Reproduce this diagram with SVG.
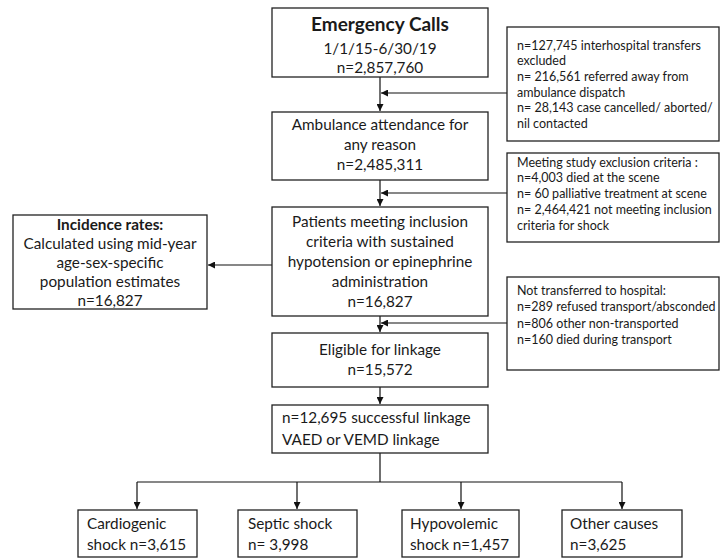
<svg xmlns="http://www.w3.org/2000/svg" width="721" height="559" viewBox="0 0 721 559">
<style>
.box{fill:#fff;stroke:#222;stroke-width:1.3}
.t{font-family:Lato,"Liberation Sans",sans-serif;fill:#1a1a1a}
.m{font-size:15.3px}
.c{text-anchor:middle}
.s{font-size:12.5px}
.b{font-weight:bold}
.ln{fill:none;stroke:#111;stroke-width:1.2}
</style>
<defs>
<marker id="ah" viewBox="0 0 10 10" refX="10" refY="5" markerWidth="7" markerHeight="7" markerUnits="userSpaceOnUse" orient="auto">
<path d="M0,0 L10,5 L0,10 z" fill="#111"/>
</marker>
</defs>
<rect width="721" height="559" fill="#fff"/>
<g id="connectors">
<path class="ln" d="M380,77 V111" marker-end="url(#ah)"/>
<path class="ln" d="M507,93 H381" marker-end="url(#ah)"/>
<path class="ln" d="M380,180 V206" marker-end="url(#ah)"/>
<path class="ln" d="M507,193 H381" marker-end="url(#ah)"/>
<path class="ln" d="M272,265 H208" marker-end="url(#ah)"/>
<path class="ln" d="M380,316 V332" marker-end="url(#ah)"/>
<path class="ln" d="M507,323 H381" marker-end="url(#ah)"/>
<path class="ln" d="M380,387 V404" marker-end="url(#ah)"/>
<path class="ln" d="M380,453 V482 M137,482 H622"/>
<path class="ln" d="M137,482 V509" marker-end="url(#ah)"/>
<path class="ln" d="M297,482 V509" marker-end="url(#ah)"/>
<path class="ln" d="M461,482 V509" marker-end="url(#ah)"/>
<path class="ln" d="M622,482 V509" marker-end="url(#ah)"/>
</g>
<g id="calls">
<rect class="box" x="272" y="8" width="216" height="69"/>
<text class="t c b" x="380" y="31" font-size="19">Emergency Calls</text>
<text class="t c m" x="380" y="54">1/1/15-6/30/19</text>
<text class="t c m" x="380" y="73">n=2,857,760</text>
</g>
<g id="excl1">
<rect class="box" x="507" y="27" width="212" height="114"/>
<text class="t s" x="517" y="49.5">n=127,745 interhospital transfers</text>
<text class="t s" x="517" y="65">excluded</text>
<text class="t s" x="517" y="81">n= 216,561 referred away from</text>
<text class="t s" x="517" y="96.5">ambulance dispatch</text>
<text class="t s" x="517" y="112">n= 28,143 case cancelled/ aborted/</text>
<text class="t s" x="517" y="128">nil contacted</text>
</g>
<g id="ambulance">
<rect class="box" x="272" y="112" width="216" height="68"/>
<text class="t c m" x="380" y="130">Ambulance attendance for</text>
<text class="t c m" x="380" y="150">any reason</text>
<text class="t c m" x="380" y="170">n=2,485,311</text>
</g>
<g id="excl2">
<rect class="box" x="507" y="153" width="212" height="89"/>
<text class="t s" x="517" y="166.5">Meeting study exclusion criteria :</text>
<text class="t s" x="517" y="182">n=4,003 died at the scene</text>
<text class="t s" x="517" y="197.5">n= 60 palliative treatment at scene</text>
<text class="t s" x="517" y="213.5">n= 2,464,421 not meeting inclusion</text>
<text class="t s" x="517" y="229.5">criteria for shock</text>
</g>
<g id="incidence">
<rect class="box" x="13" y="215" width="194" height="94"/>
<text class="t c m b" x="110" y="230">Incidence rates:</text>
<text class="t c m" x="110" y="249">Calculated using mid-year</text>
<text class="t c m" x="110" y="268">age-sex-specific</text>
<text class="t c m" x="110" y="287">population estimates</text>
<text class="t c m" x="110" y="306">n=16,827</text>
</g>
<g id="patients">
<rect class="box" x="272" y="207" width="216" height="109"/>
<text class="t c m" x="380" y="227">Patients meeting inclusion</text>
<text class="t c m" x="380" y="247">criteria with sustained</text>
<text class="t c m" x="380" y="267">hypotension or epinephrine</text>
<text class="t c m" x="380" y="287">administration</text>
<text class="t c m" x="380" y="307">n=16,827</text>
</g>
<g id="excl3">
<rect class="box" x="507" y="277" width="212" height="93"/>
<text class="t s" x="517" y="294.5">Not transferred to hospital:</text>
<text class="t s" x="517" y="311">n=289 refused transport/absconded</text>
<text class="t s" x="517" y="327.5">n=806 other non-transported</text>
<text class="t s" x="517" y="344">n=160 died during transport</text>
</g>
<g id="eligible">
<rect class="box" x="272" y="333" width="216" height="54"/>
<text class="t c m" x="380" y="355">Eligible for linkage</text>
<text class="t c m" x="380" y="375">n=15,572</text>
</g>
<g id="linkage">
<rect class="box" x="272" y="405" width="216" height="48"/>
<text class="t m" x="282" y="423">n=12,695 successful linkage</text>
<text class="t m" x="282" y="445">VAED or VEMD linkage</text>
</g>
<g id="cardiogenic">
<rect class="box" x="78" y="510" width="119" height="47"/>
<text class="t m" x="87" y="529">Cardiogenic</text>
<text class="t m" x="87" y="550">shock n=3,615</text>
</g>
<g id="septic">
<rect class="box" x="238" y="510" width="119" height="47"/>
<text class="t m" x="248" y="529">Septic shock</text>
<text class="t m" x="248" y="550">n= 3,998</text>
</g>
<g id="hypovolemic">
<rect class="box" x="402" y="510" width="117" height="47"/>
<text class="t m" x="410" y="529">Hypovolemic</text>
<text class="t m" x="410" y="550">shock n=1,457</text>
</g>
<g id="other">
<rect class="box" x="562" y="510" width="120" height="47"/>
<text class="t m" x="570" y="529">Other causes</text>
<text class="t m" x="570" y="550">n=3,625</text>
</g>
</svg>
